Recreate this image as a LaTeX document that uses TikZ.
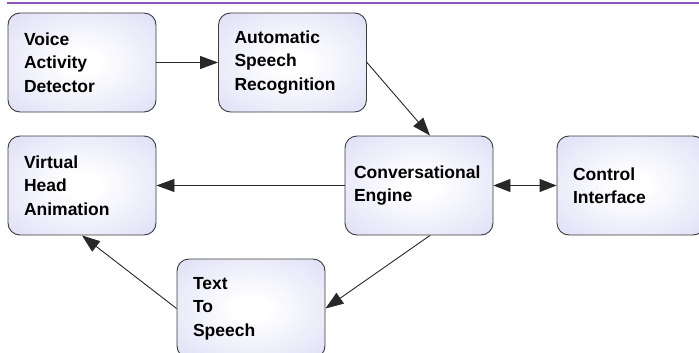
\documentclass[tikz,border=0pt]{standalone}
\usepackage{fontspec}
\setmainfont{Liberation Sans}
\usetikzlibrary{arrows.meta,calc}
\definecolor{lav}{RGB}{216,216,245}
\definecolor{boxline}{RGB}{60,60,60}
\definecolor{conn}{RGB}{40,40,40}
\definecolor{topline}{RGB}{140,88,192}
\pgfdeclareradialshading{boxshade}{\pgfpoint{0bp}{0bp}}{color(0bp)=(white); color(6bp)=(white); color(42bp)=(lav); color(50bp)=(lav)}
\tikzset{
  blk/.style={draw=boxline, line width=0.9pt, rounded corners=12pt,
    shading=boxshade,
    minimum height=99pt, text width=116pt, inner xsep=16pt, align=left,
    font=\bfseries\fontsize{17.5}{23.5}\selectfont},
  conna/.style={draw=conn, line width=0.9pt, -{Triangle[length=18pt,width=13pt]}},
  connb/.style={draw=conn, line width=0.9pt, {Triangle[length=17pt,width=13pt]}-{Triangle[length=17pt,width=13pt]}}
}
\begin{document}
\begin{tikzpicture}[x=1pt,y=-1pt]
\clip (0,0) rectangle (699,353);
\fill[white] (0,0) rectangle (699,353);
\coordinate (tl) at (7,3.5);
\coordinate (tr) at (699,3.5);
\draw[topline, line width=2pt] (tl) -- (tr);
\node[blk] (vad) at (82,62.5) {Voice\\Activity\\Detector};
\node[blk] (asr) at (292.5,62.5) {Automatic\\Speech\\Recognition};
\node[blk, inner xsep=9pt, text width=130pt] (ce) at (419,185.5) {Conversational\\Engine};
\node[blk] (ci) at (631,185.5) {Control\\Interface};
\node[blk] (vha) at (82,185.5) {Virtual\\Head\\Animation};
\node[blk] (tts) at (251,308.5) {Text\\To\\Speech};
\draw[conna] (vad.east) -- (asr.west);
\draw[conna] (asr.east) -- ([xshift=11pt]ce.north);
\draw[conna] (ce.west) -- (vha.east);
\draw[connb] (ce.east) -- (ci.west);
\draw[conna] ([xshift=11pt]ce.south) -- (tts.east);
\draw[conna] (tts.west) -- (vha.south);
\end{tikzpicture}
\end{document}
